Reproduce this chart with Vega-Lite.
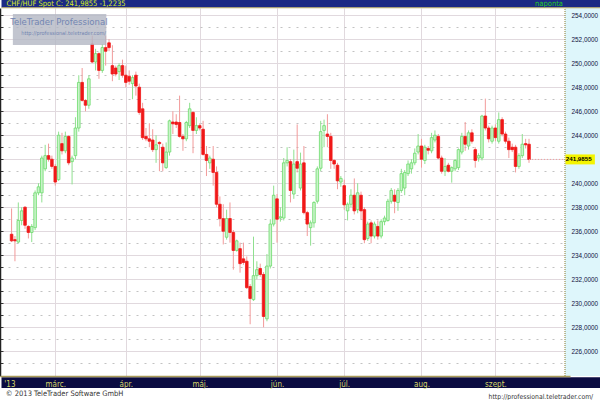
{
"$schema": "https://vega.github.io/schema/vega-lite/v6.json",
"width": 570, "height": 368,
"autosize": {"type": "none"},
"padding": {"left": 0, "top": 8, "right": 30, "bottom": 24},
"background": "white",
"config": {"view": {"stroke": null}},
"datasets": {"one": [{}]},
"data": {"values": [
{"d":"2013-02-12","i":0,"o":235.75,"h":237.9,"l":235.1,"c":235.2},
{"d":"2013-02-13","i":1,"o":235.3,"h":235.6,"l":233.5,"c":235.2},
{"d":"2013-02-14","i":2,"o":235.1,"h":238.4,"l":235.0,"c":236.9},
{"d":"2013-02-15","i":3,"o":236.9,"h":238.0,"l":236.5,"c":237.7},
{"d":"2013-02-18","i":4,"o":238.0,"h":238.1,"l":236.2,"c":236.5},
{"d":"2013-02-19","i":5,"o":236.4,"h":236.5,"l":235.4,"c":235.9},
{"d":"2013-02-20","i":6,"o":235.9,"h":236.6,"l":235.1,"c":236.4},
{"d":"2013-02-21","i":7,"o":236.3,"h":239.4,"l":236.1,"c":239.2},
{"d":"2013-02-22","i":8,"o":239.2,"h":240.0,"l":239.0,"c":239.7},
{"d":"2013-02-25","i":9,"o":239.2,"h":242.3,"l":238.4,"c":242.1},
{"d":"2013-02-26","i":10,"o":241.2,"h":243.2,"l":241.0,"c":242.3},
{"d":"2013-02-27","i":11,"o":242.3,"h":243.3,"l":241.8,"c":242.0},
{"d":"2013-02-28","i":12,"o":242.0,"h":242.3,"l":241.2,"c":241.4},
{"d":"2013-03-01","i":13,"o":241.4,"h":241.6,"l":239.8,"c":240.1},
{"d":"2013-03-04","i":14,"o":240.3,"h":244.3,"l":240.2,"c":244.0},
{"d":"2013-03-05","i":15,"o":243.3,"h":244.2,"l":242.4,"c":242.7},
{"d":"2013-03-06","i":16,"o":242.7,"h":244.3,"l":242.5,"c":243.9},
{"d":"2013-03-07","i":17,"o":243.9,"h":244.0,"l":241.5,"c":241.7},
{"d":"2013-03-08","i":18,"o":241.8,"h":242.3,"l":239.9,"c":242.1},
{"d":"2013-03-11","i":19,"o":242.3,"h":245.5,"l":242.0,"c":244.6},
{"d":"2013-03-12","i":20,"o":244.6,"h":249.0,"l":244.3,"c":248.4},
{"d":"2013-03-13","i":21,"o":248.4,"h":249.6,"l":246.8,"c":246.9},
{"d":"2013-03-14","i":22,"o":246.9,"h":247.0,"l":246.0,"c":246.5},
{"d":"2013-03-15","i":23,"o":246.5,"h":249.0,"l":246.2,"c":248.7},
{"d":"2013-03-18","i":24,"o":251.6,"h":252.3,"l":250.0,"c":250.1},
{"d":"2013-03-19","i":25,"o":250.1,"h":251.2,"l":249.4,"c":250.8},
{"d":"2013-03-20","i":26,"o":250.8,"h":250.9,"l":248.7,"c":249.4},
{"d":"2013-03-21","i":27,"o":249.4,"h":251.6,"l":249.2,"c":251.3},
{"d":"2013-03-22","i":28,"o":251.3,"h":252.3,"l":249.8,"c":251.0},
{"d":"2013-03-25","i":29,"o":251.7,"h":252.0,"l":251.0,"c":251.3},
{"d":"2013-03-26","i":30,"o":249.8,"h":251.5,"l":248.5,"c":249.1},
{"d":"2013-03-27","i":31,"o":249.6,"h":249.8,"l":248.9,"c":249.1},
{"d":"2013-03-28","i":32,"o":249.3,"h":250.0,"l":248.6,"c":249.8},
{"d":"2013-03-29","i":33,"o":249.8,"h":250.3,"l":248.8,"c":249.0},
{"d":"2013-04-01","i":34,"o":249.0,"h":249.8,"l":248.0,"c":248.4},
{"d":"2013-04-02","i":35,"o":248.9,"h":249.4,"l":248.2,"c":248.5},
{"d":"2013-04-03","i":36,"o":248.3,"h":249.0,"l":247.0,"c":248.8},
{"d":"2013-04-04","i":37,"o":249.0,"h":249.3,"l":247.3,"c":248.1},
{"d":"2013-04-05","i":38,"o":248.0,"h":248.3,"l":245.7,"c":245.9},
{"d":"2013-04-08","i":39,"o":246.2,"h":246.7,"l":243.6,"c":243.8},
{"d":"2013-04-09","i":40,"o":243.9,"h":244.6,"l":243.5,"c":243.7},
{"d":"2013-04-10","i":41,"o":243.7,"h":245.0,"l":243.0,"c":243.5},
{"d":"2013-04-11","i":42,"o":243.6,"h":244.5,"l":242.6,"c":242.8},
{"d":"2013-04-12","i":43,"o":242.8,"h":244.0,"l":241.7,"c":243.2},
{"d":"2013-04-15","i":44,"o":243.4,"h":243.5,"l":241.0,"c":243.3},
{"d":"2013-04-16","i":45,"o":243.0,"h":243.3,"l":241.0,"c":241.7},
{"d":"2013-04-17","i":46,"o":241.3,"h":243.4,"l":241.2,"c":242.6},
{"d":"2013-04-18","i":47,"o":242.6,"h":245.3,"l":242.3,"c":245.2},
{"d":"2013-04-19","i":48,"o":245.1,"h":246.0,"l":244.1,"c":244.95},
{"d":"2013-04-22","i":49,"o":245.1,"h":245.75,"l":244.6,"c":244.9},
{"d":"2013-04-23","i":50,"o":245.06,"h":247.3,"l":243.8,"c":243.9},
{"d":"2013-04-24","i":51,"o":243.9,"h":244.1,"l":242.7,"c":243.7},
{"d":"2013-04-25","i":52,"o":243.7,"h":245.2,"l":243.5,"c":245.06},
{"d":"2013-04-26","i":53,"o":244.8,"h":246.7,"l":244.6,"c":246.2},
{"d":"2013-04-29","i":54,"o":245.9,"h":246.0,"l":242.5,"c":244.4},
{"d":"2013-04-30","i":55,"o":244.4,"h":245.5,"l":244.1,"c":244.8},
{"d":"2013-05-01","i":56,"o":244.8,"h":245.0,"l":244.4,"c":244.6},
{"d":"2013-05-02","i":57,"o":244.5,"h":245.2,"l":242.3,"c":242.4},
{"d":"2013-05-03","i":58,"o":242.4,"h":243.1,"l":240.6,"c":241.9},
{"d":"2013-05-06","i":59,"o":241.7,"h":242.3,"l":241.2,"c":242.1},
{"d":"2013-05-07","i":60,"o":242.0,"h":243.1,"l":239.8,"c":240.9},
{"d":"2013-05-08","i":61,"o":240.9,"h":241.4,"l":238.0,"c":238.25},
{"d":"2013-05-09","i":62,"o":238.25,"h":238.9,"l":236.4,"c":237.05},
{"d":"2013-05-10","i":63,"o":237.05,"h":238.25,"l":234.9,"c":236.0},
{"d":"2013-05-13","i":64,"o":235.5,"h":237.8,"l":235.3,"c":237.06},
{"d":"2013-05-14","i":65,"o":237.06,"h":238.4,"l":235.05,"c":235.9},
{"d":"2013-05-15","i":66,"o":235.9,"h":236.1,"l":232.8,"c":234.4},
{"d":"2013-05-16","i":67,"o":234.4,"h":235.3,"l":234.3,"c":235.2},
{"d":"2013-05-17","i":68,"o":234.55,"h":235.05,"l":232.55,"c":233.3},
{"d":"2013-05-20","i":69,"o":233.7,"h":235.05,"l":233.2,"c":233.4},
{"d":"2013-05-21","i":70,"o":233.5,"h":233.9,"l":231.2,"c":231.3},
{"d":"2013-05-22","i":71,"o":231.4,"h":231.6,"l":228.25,"c":230.4},
{"d":"2013-05-23","i":72,"o":230.3,"h":235.55,"l":230.2,"c":232.3},
{"d":"2013-05-24","i":73,"o":232.3,"h":233.5,"l":232.0,"c":232.8},
{"d":"2013-05-27","i":74,"o":232.9,"h":233.3,"l":232.2,"c":232.4},
{"d":"2013-05-28","i":75,"o":232.4,"h":232.6,"l":228.0,"c":228.9},
{"d":"2013-05-29","i":76,"o":228.7,"h":234.1,"l":228.5,"c":233.1},
{"d":"2013-05-30","i":77,"o":233.1,"h":237.0,"l":232.9,"c":236.6},
{"d":"2013-05-31","i":78,"o":236.6,"h":239.8,"l":236.4,"c":239.0},
{"d":"2013-06-03","i":79,"o":238.7,"h":239.1,"l":235.05,"c":237.0},
{"d":"2013-06-04","i":80,"o":237.1,"h":238.0,"l":236.8,"c":237.2},
{"d":"2013-06-05","i":81,"o":237.1,"h":242.1,"l":236.9,"c":241.7},
{"d":"2013-06-06","i":82,"o":241.7,"h":243.0,"l":241.4,"c":241.9},
{"d":"2013-06-07","i":83,"o":241.8,"h":242.0,"l":238.4,"c":239.4},
{"d":"2013-06-10","i":84,"o":239.1,"h":242.8,"l":238.7,"c":241.6},
{"d":"2013-06-11","i":85,"o":241.8,"h":244.9,"l":240.9,"c":241.25},
{"d":"2013-06-12","i":86,"o":239.6,"h":242.55,"l":239.4,"c":241.6},
{"d":"2013-06-13","i":87,"o":241.7,"h":243.1,"l":237.4,"c":237.55},
{"d":"2013-06-14","i":88,"o":237.55,"h":237.7,"l":235.6,"c":236.6},
{"d":"2013-06-17","i":89,"o":236.3,"h":236.9,"l":234.8,"c":236.7},
{"d":"2013-06-18","i":90,"o":236.7,"h":238.5,"l":236.3,"c":238.4},
{"d":"2013-06-19","i":91,"o":238.5,"h":241.4,"l":238.3,"c":241.2},
{"d":"2013-06-20","i":92,"o":241.25,"h":245.2,"l":241.0,"c":244.3},
{"d":"2013-06-21","i":93,"o":244.4,"h":245.3,"l":243.0,"c":244.8},
{"d":"2013-06-24","i":94,"o":244.1,"h":245.75,"l":243.0,"c":243.9},
{"d":"2013-06-25","i":95,"o":243.9,"h":244.2,"l":241.2,"c":241.9},
{"d":"2013-06-26","i":96,"o":241.9,"h":242.0,"l":241.2,"c":241.6},
{"d":"2013-06-27","i":97,"o":241.5,"h":241.7,"l":239.5,"c":240.2},
{"d":"2013-06-28","i":98,"o":240.1,"h":240.6,"l":239.7,"c":240.4},
{"d":"2013-07-01","i":99,"o":239.8,"h":240.3,"l":237.8,"c":238.2},
{"d":"2013-07-02","i":100,"o":237.7,"h":238.4,"l":236.9,"c":238.25},
{"d":"2013-07-03","i":101,"o":238.25,"h":239.5,"l":238.0,"c":239.0},
{"d":"2013-07-04","i":102,"o":239.0,"h":240.4,"l":237.4,"c":237.7},
{"d":"2013-07-05","i":103,"o":237.8,"h":240.0,"l":237.5,"c":239.2},
{"d":"2013-07-08","i":104,"o":239.0,"h":239.3,"l":237.0,"c":237.7},
{"d":"2013-07-09","i":105,"o":237.8,"h":238.0,"l":235.0,"c":235.3},
{"d":"2013-07-10","i":106,"o":235.4,"h":236.8,"l":235.2,"c":236.6},
{"d":"2013-07-11","i":107,"o":236.7,"h":236.9,"l":235.0,"c":235.6},
{"d":"2013-07-12","i":108,"o":235.6,"h":236.8,"l":235.4,"c":236.6},
{"d":"2013-07-15","i":109,"o":236.4,"h":236.9,"l":235.3,"c":235.6},
{"d":"2013-07-16","i":110,"o":235.6,"h":237.0,"l":235.4,"c":236.8},
{"d":"2013-07-17","i":111,"o":236.8,"h":237.3,"l":236.5,"c":237.1},
{"d":"2013-07-18","i":112,"o":236.9,"h":238.7,"l":236.8,"c":238.5},
{"d":"2013-07-19","i":113,"o":238.5,"h":239.6,"l":238.3,"c":239.4},
{"d":"2013-07-22","i":114,"o":239.0,"h":239.5,"l":237.5,"c":238.5},
{"d":"2013-07-23","i":115,"o":238.4,"h":239.6,"l":237.7,"c":239.4},
{"d":"2013-07-24","i":116,"o":239.4,"h":241.2,"l":239.2,"c":240.8},
{"d":"2013-07-25","i":117,"o":239.6,"h":241.1,"l":239.0,"c":240.9},
{"d":"2013-07-26","i":118,"o":240.8,"h":241.9,"l":240.6,"c":241.6},
{"d":"2013-07-29","i":119,"o":241.2,"h":242.0,"l":240.8,"c":241.7},
{"d":"2013-07-30","i":120,"o":241.7,"h":242.9,"l":241.5,"c":242.5},
{"d":"2013-07-31","i":121,"o":242.6,"h":244.1,"l":242.4,"c":243.1},
{"d":"2013-08-01","i":122,"o":243.1,"h":243.7,"l":241.3,"c":242.0},
{"d":"2013-08-02","i":123,"o":241.9,"h":243.2,"l":241.6,"c":243.0},
{"d":"2013-08-05","i":124,"o":242.9,"h":243.1,"l":242.4,"c":242.75},
{"d":"2013-08-06","i":125,"o":242.7,"h":244.2,"l":242.5,"c":243.8},
{"d":"2013-08-07","i":126,"o":243.6,"h":244.4,"l":243.4,"c":244.0},
{"d":"2013-08-08","i":127,"o":243.9,"h":244.1,"l":242.0,"c":242.1},
{"d":"2013-08-09","i":128,"o":242.1,"h":242.3,"l":240.8,"c":241.0},
{"d":"2013-08-12","i":129,"o":241.0,"h":242.1,"l":240.6,"c":241.4},
{"d":"2013-08-13","i":130,"o":241.5,"h":241.7,"l":240.9,"c":241.0},
{"d":"2013-08-14","i":131,"o":241.0,"h":241.4,"l":240.05,"c":241.3},
{"d":"2013-08-15","i":132,"o":241.2,"h":242.0,"l":241.0,"c":241.9},
{"d":"2013-08-16","i":133,"o":241.3,"h":242.9,"l":241.1,"c":242.8},
{"d":"2013-08-19","i":134,"o":242.6,"h":244.2,"l":242.4,"c":243.9},
{"d":"2013-08-20","i":135,"o":243.9,"h":245.1,"l":242.7,"c":243.25},
{"d":"2013-08-21","i":136,"o":243.1,"h":244.4,"l":242.8,"c":244.2},
{"d":"2013-08-22","i":137,"o":244.2,"h":244.5,"l":243.3,"c":243.5},
{"d":"2013-08-23","i":138,"o":242.8,"h":243.0,"l":241.3,"c":241.9},
{"d":"2013-08-26","i":139,"o":242.1,"h":242.5,"l":241.8,"c":242.3},
{"d":"2013-08-27","i":140,"o":242.1,"h":245.7,"l":241.9,"c":245.6},
{"d":"2013-08-28","i":141,"o":245.6,"h":247.05,"l":244.4,"c":244.6},
{"d":"2013-08-29","i":142,"o":244.6,"h":244.8,"l":243.4,"c":243.7},
{"d":"2013-08-30","i":143,"o":243.5,"h":244.8,"l":243.3,"c":244.6},
{"d":"2013-09-02","i":144,"o":244.6,"h":244.9,"l":243.5,"c":243.8},
{"d":"2013-09-03","i":145,"o":243.5,"h":245.9,"l":243.3,"c":245.3},
{"d":"2013-09-04","i":146,"o":245.3,"h":245.5,"l":243.9,"c":244.1},
{"d":"2013-09-05","i":147,"o":244.1,"h":244.3,"l":243.3,"c":243.5},
{"d":"2013-09-06","i":148,"o":243.5,"h":243.8,"l":242.1,"c":242.8},
{"d":"2013-09-09","i":149,"o":243.0,"h":243.3,"l":242.6,"c":242.8},
{"d":"2013-09-10","i":150,"o":243.0,"h":243.2,"l":240.9,"c":241.4},
{"d":"2013-09-11","i":151,"o":241.4,"h":242.5,"l":241.2,"c":242.3},
{"d":"2013-09-12","i":152,"o":242.3,"h":244.1,"l":242.1,"c":243.25},
{"d":"2013-09-13","i":153,"o":243.3,"h":243.7,"l":242.9,"c":243.2},
{"d":"2013-09-16","i":154,"o":243.25,"h":243.7,"l":241.7,"c":241.9855}
]},
"layer": [
{"data": {"name": "one"}, "mark": {"type": "rect", "fill": "#def6fb"},
 "encoding": {"x": {"datum": 164.71, "type": "quantitative", "scale": {"domain": [-1.96, 164.71], "nice": false, "zero": false}, "axis": null}, "x2": {"datum": 185},
  "y": {"datum": 223.94, "type": "quantitative", "scale": {"domain": [223.94, 254.6], "nice": false, "zero": false}, "axis": null}, "y2": {"datum": 254.6}}},
{"data": {"name": "one"}, "mark": {"type": "rect", "fill": "#1c2a84"},
 "encoding": {"x": {"datum": -3, "axis": null}, "x2": {"datum": 185}, "y": {"datum": 254.65, "axis": null}, "y2": {"datum": 256}}},
{"data": {"name": "one"}, "mark": {"type": "rule", "stroke": "#b4a660", "strokeWidth": 1},
 "encoding": {"x": {"datum": -3, "axis": null}, "x2": {"datum": 185}, "y": {"datum": 254.62, "axis": null}}},
{"data": {"name": "one"}, "mark": {"type": "rect", "fill": "#0b0c42"},
 "encoding": {"x": {"datum": -3, "axis": null}, "x2": {"datum": 185}, "y": {"datum": 223.84, "axis": null}, "y2": {"datum": 222.94}}},
{"data": {"name": "one"}, "mark": {"type": "rule", "stroke": "#8a7a30", "strokeDash": [1, 1]},
 "encoding": {"x": {"datum": 164.71, "axis": null}, "y": {"datum": 223.94, "axis": null}, "y2": {"datum": 254.6}}},
{"mark": {"type": "rule", "strokeWidth": 1},
 "encoding": {
  "x": {"field": "i", "type": "quantitative", "scale": {"domain": [-1.96, 164.71], "nice": false, "zero": false},
   "axis": {"orient": "top", "values": [13, 34, 56, 79, 99, 122, 144], "grid": true, "gridColor": "#e1d9de", "labels": false, "ticks": false, "domain": false, "title": null, "zindex": 0}},
  "y": {"field": "l", "type": "quantitative", "scale": {"domain": [223.94, 254.6], "nice": false, "zero": false},
   "axis": {"orient": "left", "values": [225,226,227,228,229,230,231,232,233,234,235,236,237,238,239,240,241,242,243,244,245,246,247,248,249,250,251,252,253,254],
    "grid": true,
    "gridColor": {"condition": {"test": "datum.value % 2 == 1", "value": "#c2c2c2"}, "value": "#e1d9de"},
    "gridDash": {"condition": {"test": "datum.value % 2 == 1", "value": [2, 6]}, "value": []},
    "labels": false, "ticks": true, "tickSize": -3, "tickColor": "#333333", "domain": true, "domainColor": "#222222", "domainWidth": 1.5, "title": null, "zindex": 0}},
  "y2": {"field": "h"},
  "color": {"condition": {"test": "datum.c >= datum.o", "value": "#8fe08f"}, "value": "#f29a9a"}
 }},
{"mark": {"type": "bar", "size": 2.6, "strokeWidth": 0.8},
 "encoding": {
  "x": {"field": "i", "type": "quantitative",
   "axis": {"orient": "bottom", "values": [-0.65, 13, 34, 56, 79, 99, 122, 144],
    "labelExpr": "datum.value < 0 ? \"'13\" : datum.value == 13 ? 'márc.' : datum.value == 34 ? 'ápr.' : datum.value == 56 ? 'máj.' : datum.value == 79 ? 'jún.' : datum.value == 99 ? 'júl.' : datum.value == 122 ? 'aug.' : 'szept.'",
    "grid": false, "ticks": false, "tickSize": 0, "labelPadding": 8, "labelBaseline": "middle", "labelAlign": "center", "labelColor": "#d6d66a", "labelFontSize": 8, "labelFont": "Liberation Sans Narrow, DejaVu Sans Condensed, sans-serif", "labelFlush": false, "labelOverlap": false, "domainColor": "#a89a58", "domainWidth": 1.5, "title": null, "zindex": 2}},
  "y": {"field": "o", "type": "quantitative",
   "axis": {"orient": "right", "values": [226, 228, 230, 232, 234, 236, 238, 240, 244, 246, 248, 250, 252, 254],
    "labelExpr": "replace(format(datum.value, '.4f'), '.', ',')",
    "grid": false, "ticks": false, "tickSize": 0, "domain": false, "labelPadding": 1, "labelAlign": "left", "labelBaseline": "middle", "labelFontSize": 6.4, "labelFont": "Liberation Sans", "labelColor": "#101040", "labelFlush": false, "labelOverlap": false, "title": null, "zindex": 2}},
  "y2": {"field": "c"},
  "fill": {"condition": {"test": "datum.c >= datum.o", "value": "#c9f3c9"}, "value": "#f01818"},
  "stroke": {"condition": {"test": "datum.c >= datum.o", "value": "#6cdc6c"}, "value": "#f01818"}
 }},
{"data": {"name": "one"}, "mark": {"type": "rule", "stroke": "#f0a0a0", "strokeDash": [1, 2]},
 "encoding": {"x": {"datum": 154, "axis": null}, "x2": {"datum": 164.71}, "y": {"datum": 241.9855, "axis": null}}},
{"data": {"name": "one"}, "mark": {"type": "rect", "fill": "#f4f400"},
 "encoding": {"x": {"datum": 164.85, "axis": null}, "x2": {"datum": 173.6}, "y": {"datum": 241.57, "axis": null}, "y2": {"datum": 242.4}}},
{"data": {"name": "one"}, "mark": {"type": "text", "text": "241,9855", "align": "left", "baseline": "middle", "fontSize": 6.2, "font": "Liberation Sans", "fontWeight": "bold", "fill": "#000000"},
 "encoding": {"x": {"datum": 164.95, "axis": null}, "y": {"datum": 241.9855, "axis": null}}},
{"data": {"name": "one"}, "mark": {"type": "rect", "fill": "#b3b7c3", "opacity": 0.8},
 "encoding": {"x": {"datum": 0.38, "axis": null}, "x2": {"datum": 28.2}, "y": {"datum": 251.52, "axis": null}, "y2": {"datum": 254.1}}},
{"data": {"name": "one"}, "mark": {"type": "text", "text": "TeleTrader Professional", "align": "center", "baseline": "middle", "fontSize": 9.5, "font": "Liberation Sans Narrow, DejaVu Sans Condensed, sans-serif", "fill": "#7386b2"},
 "encoding": {"x": {"datum": 14.1, "axis": null}, "y": {"datum": 253.45, "axis": null}}},
{"data": {"name": "one"}, "mark": {"type": "text", "text": "http://professional.teletrader.com/", "align": "center", "baseline": "middle", "fontSize": 5.5, "font": "Liberation Sans Narrow, DejaVu Sans Condensed, sans-serif", "fill": "#7386b2"},
 "encoding": {"x": {"datum": 15.5, "axis": null}, "y": {"datum": 252.55, "axis": null}}},
{"data": {"name": "one"}, "mark": {"type": "text", "text": "CHF/HUF Spot C: 241,9855 -1,2235", "align": "left", "baseline": "middle", "fontSize": 7.5, "font": "Liberation Sans Narrow, DejaVu Sans Condensed, sans-serif", "fill": "#d6ec1e"},
 "encoding": {"x": {"datum": -1.5, "axis": null}, "y": {"datum": 254.93, "axis": null}}},
{"data": {"name": "one"}, "mark": {"type": "text", "text": "naponta", "align": "right", "baseline": "middle", "fontSize": 7.5, "font": "Liberation Sans Narrow, DejaVu Sans Condensed, sans-serif", "fill": "#22cc22"},
 "encoding": {"x": {"datum": 164.1, "axis": null}, "y": {"datum": 254.93, "axis": null}}},
{"data": {"name": "one"}, "mark": {"type": "text", "text": "© 2013 TeleTrader Software GmbH", "align": "left", "baseline": "middle", "fontSize": 7.5, "font": "Liberation Sans Narrow, DejaVu Sans Condensed, sans-serif", "fill": "#333333"},
 "encoding": {"x": {"datum": -1.7, "axis": null}, "y": {"datum": 222.44, "axis": null}}},
{"data": {"name": "one"}, "mark": {"type": "text", "text": "http://professional.teletrader.com/", "align": "right", "baseline": "middle", "fontSize": 6.8, "font": "Liberation Sans Narrow, DejaVu Sans Condensed, sans-serif", "fill": "#333333"},
 "encoding": {"x": {"datum": 173.1, "axis": null}, "y": {"datum": 222.2, "axis": null}}}
],
"resolve": {"axis": {"x": "independent", "y": "independent"}}
}
